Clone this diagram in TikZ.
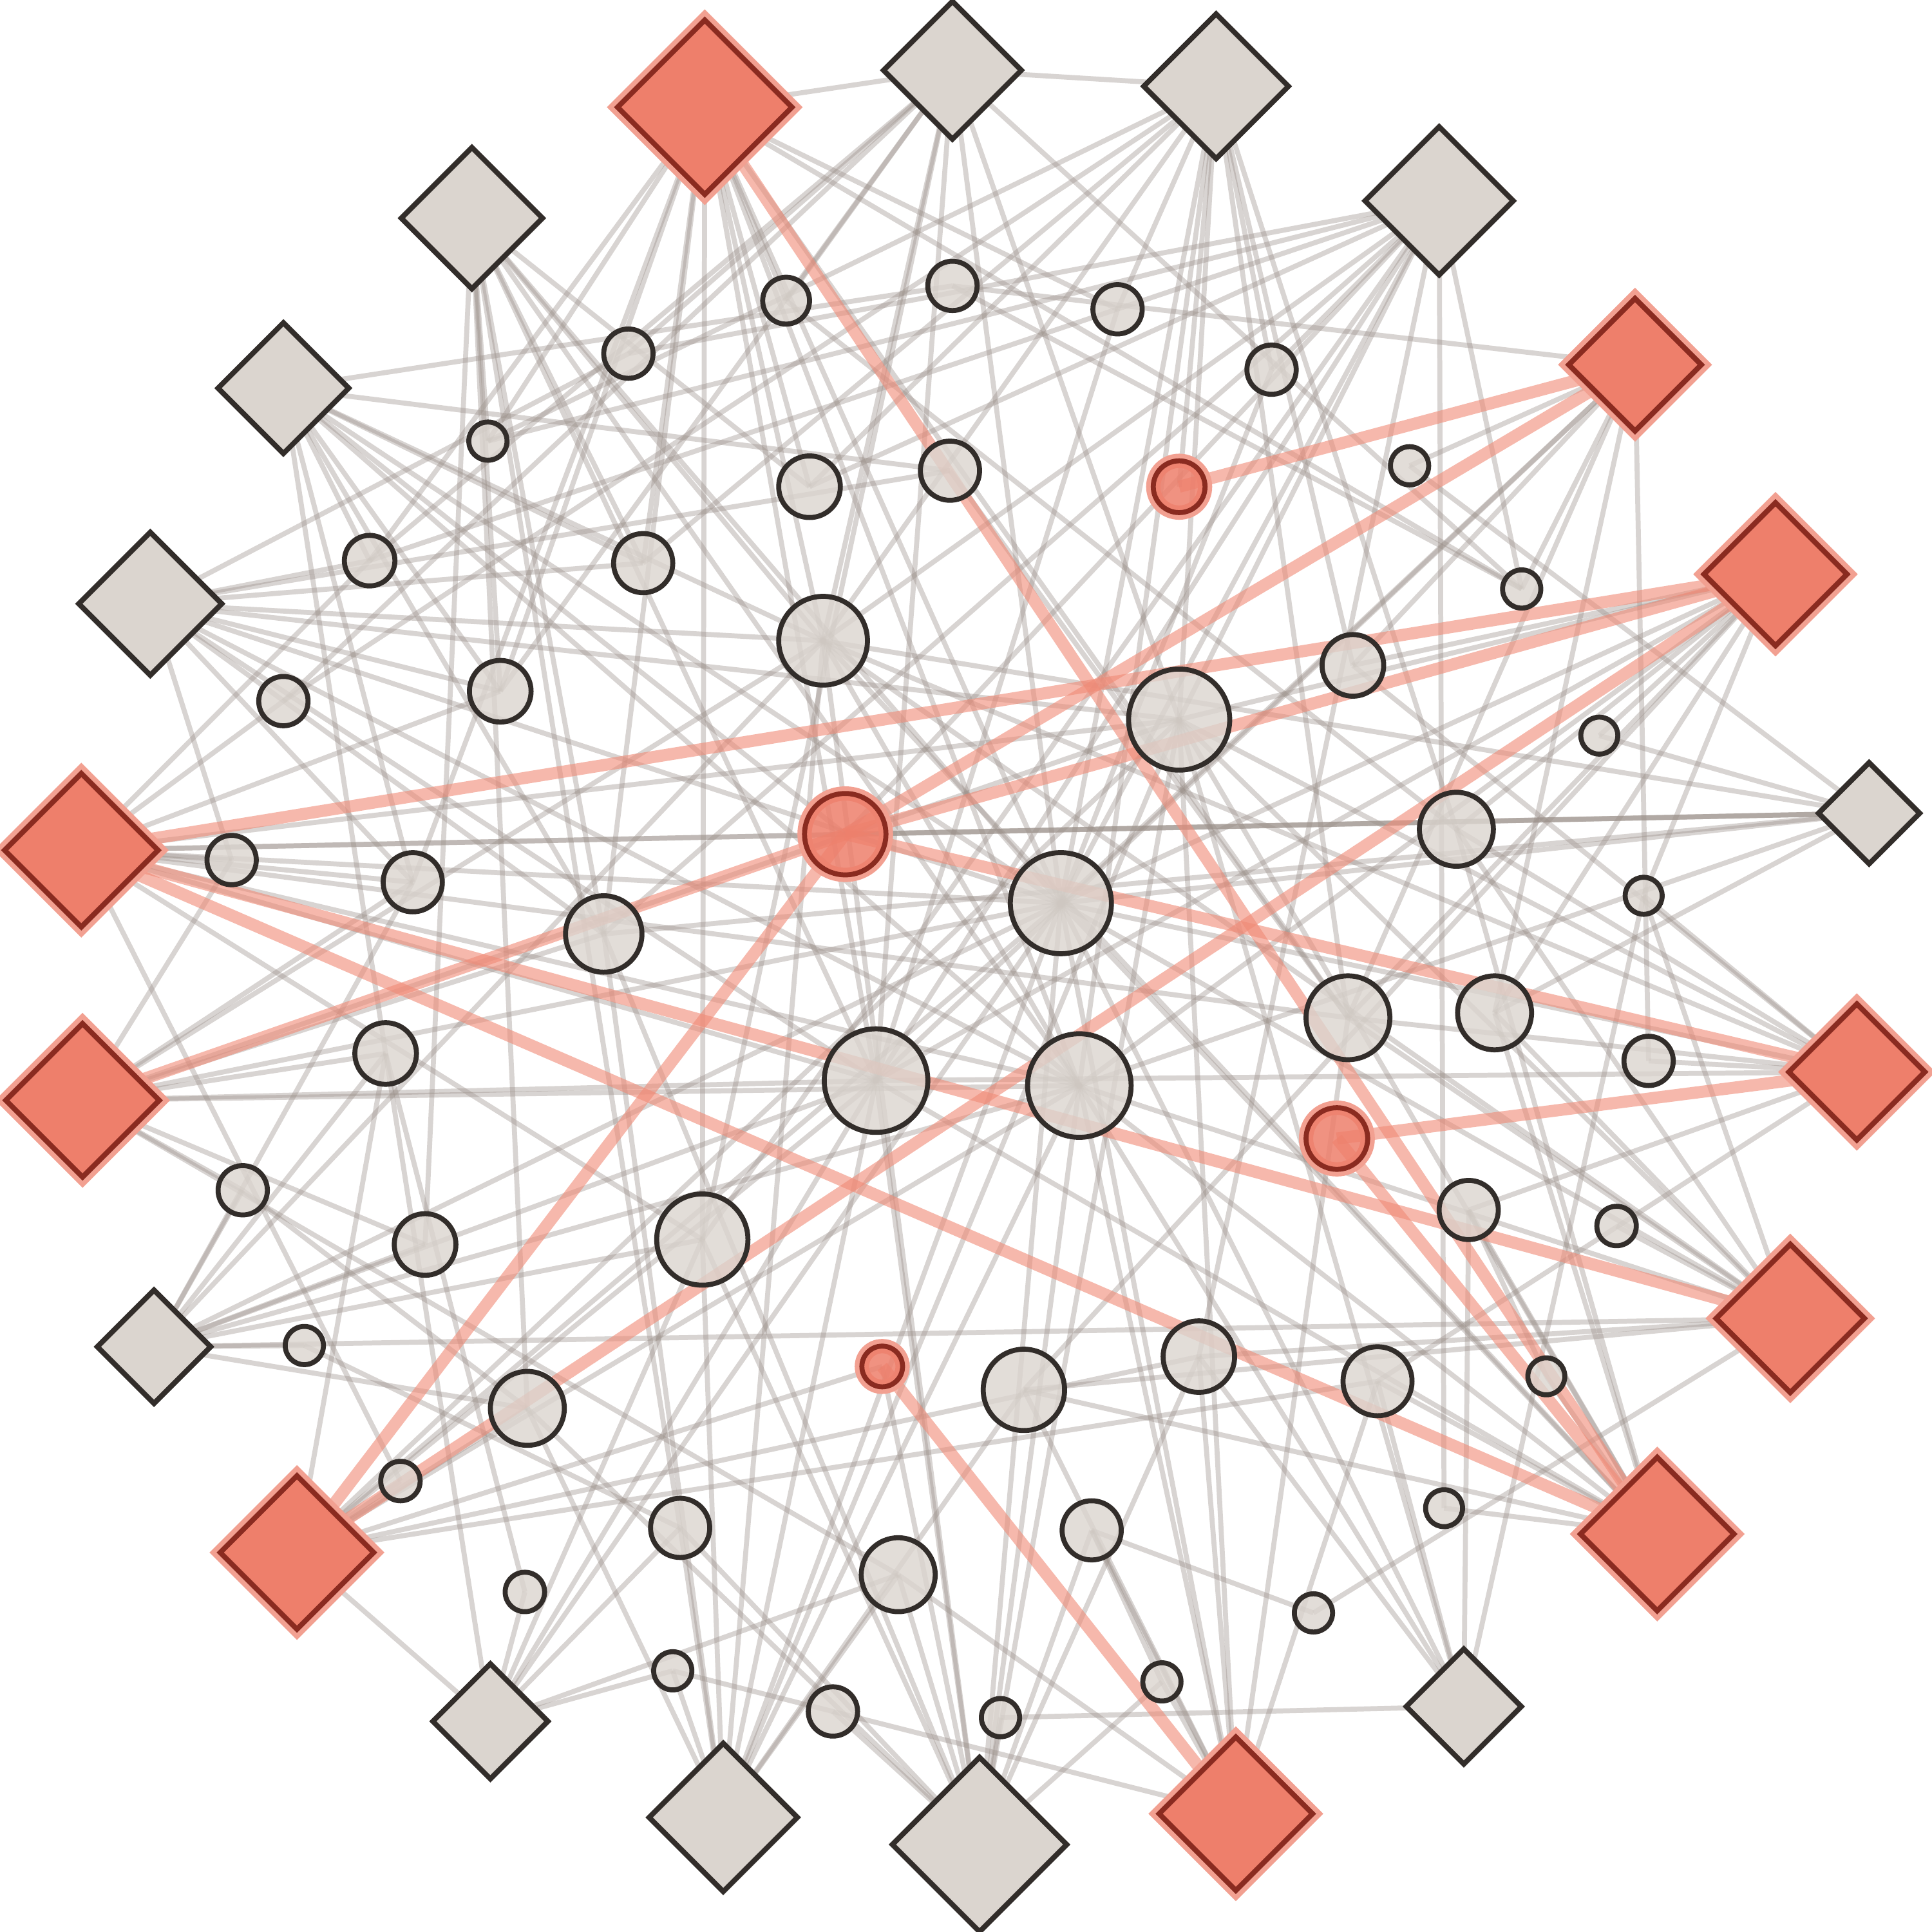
\documentclass[tikz,border=0pt]{standalone}
\usetikzlibrary{backgrounds}
\definecolor{gfill}{HTML}{DBD5CF}
\definecolor{dk}{HTML}{322D2A}
\definecolor{rfill}{HTML}{EE7F6B}
\definecolor{rdk}{HTML}{8A2B20}
\definecolor{rhalo}{HTML}{F2A091}
\definecolor{gline}{HTML}{9A8F89}
\definecolor{rline}{HTML}{F08A76}
\begin{document}
\begin{tikzpicture}[x=0.01cm,y=-0.01cm,
  gsq/.style={shape=rectangle,rotate=45,draw=dk,fill=gfill,line width=1.2pt,minimum size=#1,inner sep=0pt},
  rsq/.style={shape=rectangle,rotate=45,draw=rdk,fill=rfill,line width=1.2pt,minimum size=#1,inner sep=0pt,preaction={draw=rhalo,line width=3.5pt}},
  gc/.style={circle,draw=dk,fill=gfill,fill opacity=0.8,line width=1.15pt,minimum size=#1,inner sep=0pt},
  rcirc/.style={circle,draw=rdk,fill=rfill,fill opacity=0.85,line width=1.15pt,minimum size=#1,inner sep=0pt,preaction={draw=rhalo,line width=3.3pt}},
  gedge/.style={draw=gline,opacity=0.38,line width=1.15pt},
  redge/.style={draw=rline,opacity=0.6,line width=2.8pt}]
\useasboundingbox (0,0) rectangle (1568,1568);
% gray diamonds
\node[gsq=0.79cm] (g1) at (773,57) {};
\node[gsq=0.83cm] (g2) at (987,70) {};
\node[gsq=0.85cm] (g3) at (1168,163) {};
\node[gsq=0.81cm] (g4) at (383,177) {};
\node[gsq=0.75cm] (g5) at (230,315) {};
\node[gsq=0.82cm] (g6) at (122,490) {};
\node[gsq=0.58cm] (g7) at (1517,660) {};
\node[gsq=0.65cm] (g8) at (125,1093) {};
\node[gsq=0.66cm] (g9) at (398,1397) {};
\node[gsq=0.66cm] (g10) at (1188,1385) {};
\node[gsq=0.85cm] (g11) at (587,1475) {};
\node[gsq=1.00cm] (g12) at (795,1497) {};
% red diamonds
\node[rsq=1.00cm] (r1) at (572,87) {};
\node[rsq=0.76cm] (r2) at (1327,296) {};
\node[rsq=0.82cm] (r3) at (1441,466) {};
\node[rsq=0.88cm] (r4) at (66,690) {};
\node[rsq=0.88cm] (r5) at (67,893) {};
\node[rsq=0.78cm] (r6) at (1507,870) {};
\node[rsq=0.85cm] (r7) at (1453,1070) {};
\node[rsq=0.88cm] (r8) at (241,1260) {};
\node[rsq=0.88cm] (r9) at (1345,1245) {};
\node[rsq=0.88cm] (r10) at (1003,1472) {};
% circles
\node[gc=0.38cm] (c1) at (638,244) {};
\node[gc=0.40cm] (c2) at (773,232) {};
\node[gc=0.40cm] (c3) at (907,251) {};
\node[gc=0.40cm] (c4) at (510,287) {};
\node[gc=0.40cm] (c5) at (1032,300) {};
\node[gc=0.31cm] (c6) at (396,358) {};
\node[gc=0.50cm] (c7) at (657,395) {};
\node[gc=0.48cm] (c8) at (771,382) {};
\node[gc=0.31cm] (c9) at (1144,378) {};
\node[gc=0.41cm] (c10) at (300,455) {};
\node[gc=0.48cm] (c11) at (522,457) {};
\node[gc=0.31cm] (c12) at (1235,478) {};
\node[gc=0.72cm] (c13) at (668,520) {};
\node[gc=0.50cm] (c14) at (1098,540) {};
\node[gc=0.40cm] (c15) at (230,569) {};
\node[gc=0.50cm] (c16) at (406,561) {};
\node[gc=0.82cm] (c17) at (957,584) {};
\node[gc=0.30cm] (c18) at (1298,597) {};
\node[gc=0.60cm] (c19) at (1182,673) {};
\node[gc=0.40cm] (c20) at (188,698) {};
\node[gc=0.48cm] (c21) at (335,716) {};
\node[gc=0.82cm] (c22) at (861,733) {};
\node[gc=0.30cm] (c23) at (1334,727) {};
\node[gc=0.62cm] (c24) at (490,758) {};
\node[gc=0.68cm] (c25) at (1094,826) {};
\node[gc=0.60cm] (c26) at (1213,822) {};
\node[gc=0.50cm] (c27) at (313,855) {};
\node[gc=0.84cm] (c28) at (711,877) {};
\node[gc=0.84cm] (c29) at (876,881) {};
\node[gc=0.40cm] (c30) at (1338,861) {};
\node[gc=0.40cm] (c31) at (197,966) {};
\node[gc=0.48cm] (c32) at (1192,982) {};
\node[gc=0.32cm] (c33) at (1312,995) {};
\node[gc=0.50cm] (c34) at (345,1010) {};
\node[gc=0.74cm] (c35) at (570,1006) {};
\node[gc=0.31cm] (c36) at (247,1092) {};
\node[gc=0.66cm] (c37) at (831,1128) {};
\node[gc=0.58cm] (c38) at (973,1101) {};
\node[gc=0.56cm] (c39) at (1118,1121) {};
\node[gc=0.30cm] (c40) at (1255,1117) {};
\node[gc=0.60cm] (c41) at (428,1143) {};
\node[gc=0.32cm] (c42) at (325,1202) {};
\node[gc=0.48cm] (c43) at (552,1240) {};
\node[gc=0.48cm] (c44) at (886,1242) {};
\node[gc=0.30cm] (c45) at (1172,1224) {};
\node[gc=0.60cm] (c46) at (729,1278) {};
\node[gc=0.32cm] (c47) at (426,1292) {};
\node[gc=0.31cm] (c48) at (1066,1309) {};
\node[gc=0.31cm] (c49) at (546,1356) {};
\node[gc=0.31cm] (c50) at (943,1365) {};
\node[gc=0.40cm] (c51) at (676,1389) {};
\node[gc=0.31cm] (c52) at (812,1394) {};
% red circles
\node[rcirc=0.42cm] (ra) at (957,395) {};
\node[rcirc=0.66cm] (rb) at (686,677) {};
\node[rcirc=0.50cm] (rc) at (1085,924) {};
\node[rcirc=0.33cm] (rd) at (716,1109) {};
\begin{pgfonlayer}{background}
\fill[white] (0,0) rectangle (1568,1568);
\foreach \a/\b in {g1/r1, g1/g2, g1/c1, g1/c4, g1/c10, g1/c16, g1/c13, g1/c22, g1/c12, g1/c17, g1/c15,
 g2/ra, g2/c15, g2/c6, g2/c11, g2/c14, g2/c19, g2/c17, g2/c25, g2/c5, g2/c7, g2/c3,
 g3/c10, g3/c7, g3/c4, g3/c17, g3/c22, g3/c28, g3/c38, g3/c45, g3/c12, g3/c6, g3/rb, g3/c5,
 r2/c2, r2/c12, r2/c26, r2/c30, r2/c9, r2/c14,
 r3/c14, r3/c19, r3/c23, r3/c26, r3/c25, r3/c29, r3/c18, r3/c17,
 g7/r4, g7/c24, g7/rb, g7/c9, g7/c26, g7/c29, g7/c18,
 r6/c19, r6/c23, r6/c17, r6/c32, r6/c39, r6/c30, r6/c14, r6/c22,
 r7/c37, r7/c38, r7/c48, r7/c25, r7/c19, r7/c26, r7/c33, r7/c23, r7/g8,
 r9/c37, r9/c29, r9/c19, r9/c26, r9/c40, r9/c45, r9/c39, r9/c22, r9/c32,
 g10/c29, g10/c23, g10/c39, g10/c52, g10/c32, g10/c38,
 r10/c49, r10/c44, r10/c37, r10/c39, r10/c38, r10/c46, r10/c25, r10/c50,
 g12/c51, g12/c52, g12/c43, g12/c35, g12/rd, g12/c46, g12/c28, g12/c29, g12/c44, g12/c38, g12/c41, g12/c24, g12/c50,
 g11/c43, g11/c35, g11/c28, g11/c22, g11/c41, g11/c46, g11/c13, g11/c37, g11/c49,
 g9/r8, g9/c27, g9/c43, g9/c49, g9/c35, g9/c46, g9/c47,
 r8/c39, r8/rd, r8/c41, r8/c27, r8/c29, r8/c38, r8/c42, r8/c28,
 g8/c36, g8/c34, g8/c27, g8/c35, g8/c21, g8/c41, g8/c29, g8/c31,
 r5/c29, r5/c27, r5/c34, r5/c46, r5/c21, r5/c24, r5/c20, r5/c31, r5/c28,
 r4/g7, r4/c22, r4/c28, r4/c35, r4/c42, r4/c16, r4/c15, r4/c10, r4/c21, r4/c20,
 g6/c4, g6/c8, g6/c11, g6/c13, g6/c17, g6/c16, g6/c21, g6/c24, g6/c20, g6/c10,
 g5/c8, g5/c13, g5/c10, g5/rb, g5/c24, g5/c11, g5/c21, g5/c2, g5/c16, g5/c27,
 g4/c34, g4/c6, g4/c43, g4/c13, g4/c7, g4/c11, g4/c24, g4/c22, g4/c41, g4/c16,
 r1/c1, r1/c6, r1/c10, r1/c16, r1/c11, r1/c7, r1/c13, r1/c24, r1/c22, r1/c3, r1/c12, r1/c21, r1/c35,
 c2/c12, c47/c27, c1/c19, c8/c25, c13/c29, c3/c28, c5/c22, c31/c41, c36/c43, c40/c32, c48/c44, c50/c44,
 g1/c28, g1/c35, g2/c22, g2/c29, g2/c13, g3/c24, g3/c13, g3/c35, r2/c22, r2/c28, r2/c25,
 r3/c22, r3/c28, r3/c37, g7/c22, g7/c13, r6/c28, r6/c13, r6/c25, r7/c22, r7/c29, r7/c17, r7/c13,
 r9/c28, r9/c17, r9/c13, g10/c17, g10/c22, r10/c29, r10/c22, r10/c17, g12/c17, g12/c22, g12/c13,
 g11/c29, g11/c17, g11/c24, g9/c22, g9/c28, r8/c17, r8/c22, g8/c22, g8/c13, g8/c28,
 r5/c17, r5/c13, r5/c22, r4/c29, r4/c17, r4/c25, g6/c22, g6/c28, g6/c29, g5/c22, g5/c29,
 g4/c28, g4/c29, r1/c29, r1/c28, r1/c25}
  \draw[gedge] (\a.center) -- (\b.center);
\foreach \a/\b in {r1/r9, ra/r2, r2/rb, r3/r4, r3/rb, r3/r8, r8/rb, r5/rb, r4/r7, r4/r9, rb/r6, rc/r6, rc/r9, rd/r10}
  \draw[redge] (\a.center) -- (\b.center);
\end{pgfonlayer}
\end{tikzpicture}
\end{document}
